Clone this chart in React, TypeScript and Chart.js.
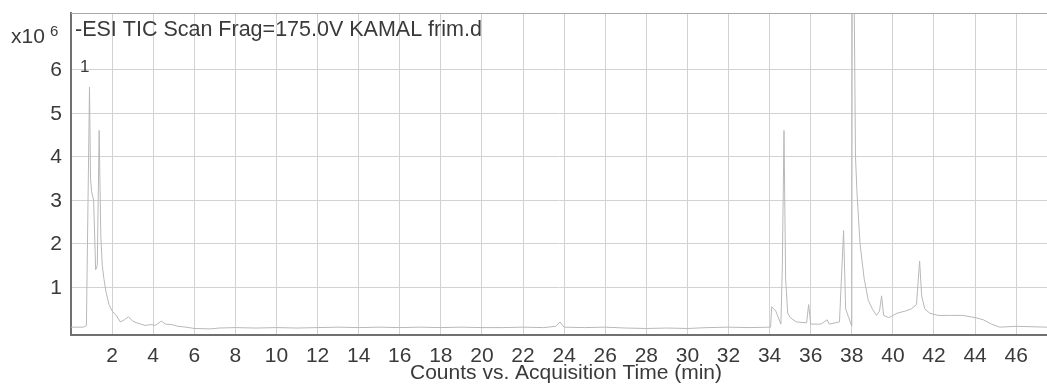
import React, { useEffect, useRef } from "react";
import { Chart, registerables } from "chart.js";

Chart.register(...registerables);

const times: number[] = [
  0.0, 0.6, 0.75, 0.9, 0.95, 1.0, 1.1, 1.2, 1.28, 1.37, 1.45, 1.52, 1.6, 1.7, 1.85,
  2.0, 2.2, 2.4, 2.6, 2.8, 3.0, 3.2, 3.4, 3.6, 3.9, 4.1, 4.4, 4.6, 4.9, 5.2, 5.6,
  6.0, 6.8, 7.2, 8.0, 9.0, 10.0, 11.0, 12.0, 13.0, 14.0, 15.0, 16.0, 17.0, 18.0,
  19.0, 20.0, 21.0, 22.0, 23.0, 23.6, 23.8, 24.0, 25.0, 26.0, 27.0, 28.0, 29.0,
  30.0, 31.0, 32.0, 33.0, 34.05, 34.1, 34.3, 34.55, 34.62, 34.7, 34.78, 34.88, 35.0,
  35.3, 35.8, 35.9, 36.0, 36.5, 36.8, 36.9, 37.4, 37.6, 37.7, 37.85, 38.0, 38.02,
  38.12, 38.18, 38.25, 38.4, 38.6, 38.8, 39.0, 39.2, 39.35, 39.45, 39.55, 39.8,
  40.2, 40.6, 40.9, 41.15, 41.3, 41.4, 41.55, 41.8, 42.2, 42.8, 43.4, 44.0, 44.4,
  44.8, 45.2, 46.0, 47.5,
];

const counts: number[] = [
  0.08, 0.08, 0.12, 5.6, 3.5, 3.2, 3.0, 1.4, 1.5, 4.6, 2.2, 1.5, 1.2, 0.9, 0.6,
  0.45, 0.35, 0.2, 0.25, 0.32, 0.22, 0.18, 0.15, 0.12, 0.14, 0.12, 0.22, 0.15, 0.14, 0.1, 0.08,
  0.05, 0.04, 0.06, 0.07, 0.06, 0.07, 0.06, 0.07, 0.08, 0.07, 0.08, 0.07, 0.08, 0.07,
  0.08, 0.07, 0.07, 0.08, 0.07, 0.1, 0.2, 0.08, 0.07, 0.08, 0.06, 0.05, 0.06,
  0.05, 0.07, 0.08, 0.07, 0.08, 0.55, 0.45, 0.15, 1.5, 4.6, 1.2, 0.4, 0.3,
  0.2, 0.18, 0.6, 0.15, 0.15, 0.25, 0.15, 0.2, 2.3, 0.5, 0.3, 0.1, 7.4,
  7.4, 4.0, 3.2, 2.0, 1.2, 0.7, 0.5, 0.35, 0.45, 0.8, 0.35, 0.3,
  0.4, 0.45, 0.5, 0.6, 1.6, 0.8, 0.5, 0.4, 0.35, 0.35, 0.35, 0.3, 0.25,
  0.15, 0.08, 0.1, 0.08,
];

const xTicks: number[] = [2, 4, 6, 8, 10, 12, 14, 16, 18, 20, 22, 24, 26, 28, 30, 32, 34, 36, 38, 40, 42, 44, 46];
const yTicks: number[] = [1, 2, 3, 4, 5, 6];

const chartTitle = "-ESI TIC Scan Frag=175.0V KAMAL frim.d";
const xTitle = "Counts vs. Acquisition Time (min)";
const scaleLabel = "x10";
const scaleExp = "6";
const peakLabel = "1";

const FONT = "'Liberation Sans', Arial, sans-serif";
const TEXT = "#3a3a3a";

export default function App() {
  const ref = useRef<HTMLCanvasElement | null>(null);

  useEffect(() => {
    document.body.style.margin = "0";
    const canvas = ref.current;
    if (!canvas) return;

    const textPlugin = {
      id: "textPlugin",
      afterDraw(chart: any) {
        const { ctx, chartArea } = chart;
        const xs = chart.scales.x;
        const ys = chart.scales.y;
        ctx.save();
        // top frame line
        ctx.strokeStyle = "#a8a8a8";
        ctx.lineWidth = 1;
        ctx.beginPath();
        ctx.moveTo(chartArea.left, chartArea.top + 0.5);
        ctx.lineTo(chartArea.right, chartArea.top + 0.5);
        ctx.stroke();

        ctx.fillStyle = TEXT;
        ctx.textBaseline = "middle";

        // x tick labels
        ctx.font = `21px ${FONT}`;
        ctx.textAlign = "center";
        xTicks.forEach((v) => {
          ctx.fillText(String(v), xs.getPixelForValue(v), chartArea.bottom + 21);
        });
        // y tick labels
        ctx.textAlign = "right";
        yTicks.forEach((v) => {
          ctx.fillText(String(v), chartArea.left - 9, ys.getPixelForValue(v) + 1);
        });
        // x axis title
        ctx.textAlign = "center";
        ctx.fillText(xTitle, 566, chartArea.bottom + 38);

        // scale label
        ctx.textAlign = "left";
        ctx.fillText(scaleLabel, 11, 37);
        ctx.font = `15px ${FONT}`;
        ctx.fillText(scaleExp, 50, 32);

        // chart title and peak label
        ctx.font = `21.5px ${FONT}`;
        ctx.fillText(chartTitle, chartArea.left + 4, chartArea.top + 17);
        ctx.font = `17px ${FONT}`;
        ctx.fillText(peakLabel, chartArea.left + 9, chartArea.top + 54);
        ctx.restore();
      },
    };

    const chart = new Chart(canvas, {
      type: "line",
      data: {
        datasets: [
          {
            data: times.map((t, i) => ({ x: t, y: counts[i] })),
            borderColor: "#b8b8b8",
            borderWidth: 1,
            pointRadius: 0,
            tension: 0,
            fill: false,
          },
        ],
      },
      options: {
        responsive: false,
        animation: false,
        clip: 0 as any,
        layout: { padding: { top: 13, right: 0, left: 0, bottom: 0 } },
        plugins: { legend: { display: false }, tooltip: { enabled: false } },
        scales: {
          x: {
            type: "linear",
            min: 0,
            max: 47.5,
            afterBuildTicks: (s: any) => {
              s.ticks = xTicks.map((v) => ({ value: v }));
            },
            afterFit: (s: any) => {
              s.height = 51;
            },
            grid: { color: "#d2d2d2", lineWidth: 1, drawTicks: false },
            border: { color: "#707070", width: 2 },
            ticks: { display: false },
          },
          y: {
            type: "linear",
            min: -0.1,
            max: 7.3,
            afterBuildTicks: (s: any) => {
              s.ticks = yTicks.map((v) => ({ value: v }));
            },
            afterFit: (s: any) => {
              s.width = 71;
            },
            grid: { color: "#d2d2d2", lineWidth: 1, drawTicks: false },
            border: { color: "#707070", width: 2 },
            ticks: { display: false },
          },
        },
      },
      plugins: [textPlugin],
    });

    return () => chart.destroy();
  }, []);

  return (
    <div style={{ width: 1047, height: 386 }}>
      <canvas ref={ref} width={1047} height={386} style={{ display: "block" }} />
    </div>
  );
}
